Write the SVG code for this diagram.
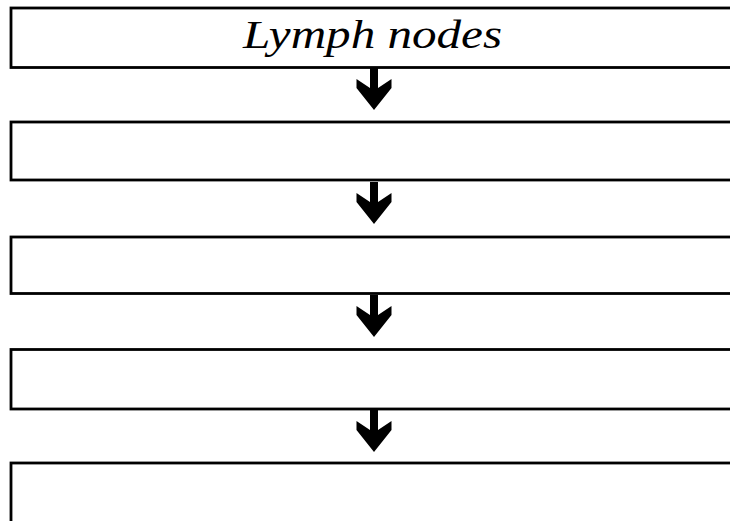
<svg xmlns="http://www.w3.org/2000/svg" xmlns:xlink="http://www.w3.org/1999/xlink" width="730" height="521" viewBox="0 0 730 521">
<style>
.box{fill:#fff;stroke:#000;stroke-width:2.8}
.arr{fill:#000;stroke:none}
.lbl{font-family:"Liberation Serif","DejaVu Serif",serif;font-style:italic;font-size:40px;fill:#000}
</style>
<defs>
<polygon id="arrow" points="-4,0 4,0 4,20 17.5,11 17.5,20 0,42 -17.5,20 -17.5,11 -4,20"/>
</defs>
<rect x="0" y="0" width="730" height="521" fill="#fff"/>
<g id="node1"><rect class="box" x="11" y="8" width="740" height="59.5"/><text class="lbl" x="372.5" y="48" text-anchor="middle" textLength="259" lengthAdjust="spacingAndGlyphs">Lymph nodes</text></g>
<g id="node2"><rect class="box" x="11" y="122" width="740" height="58"/></g>
<g id="node3"><rect class="box" x="11" y="237" width="740" height="56.5"/></g>
<g id="node4"><rect class="box" x="11" y="349.5" width="740" height="59.5"/></g>
<g id="node5"><rect class="box" x="11" y="463" width="740" height="80"/></g>
<g id="connectors" class="arr">
<use xlink:href="#arrow" x="374" y="68"/>
<use xlink:href="#arrow" x="374" y="182"/>
<use xlink:href="#arrow" x="374" y="295"/>
<use xlink:href="#arrow" x="374" y="410"/>
</g>
</svg>
